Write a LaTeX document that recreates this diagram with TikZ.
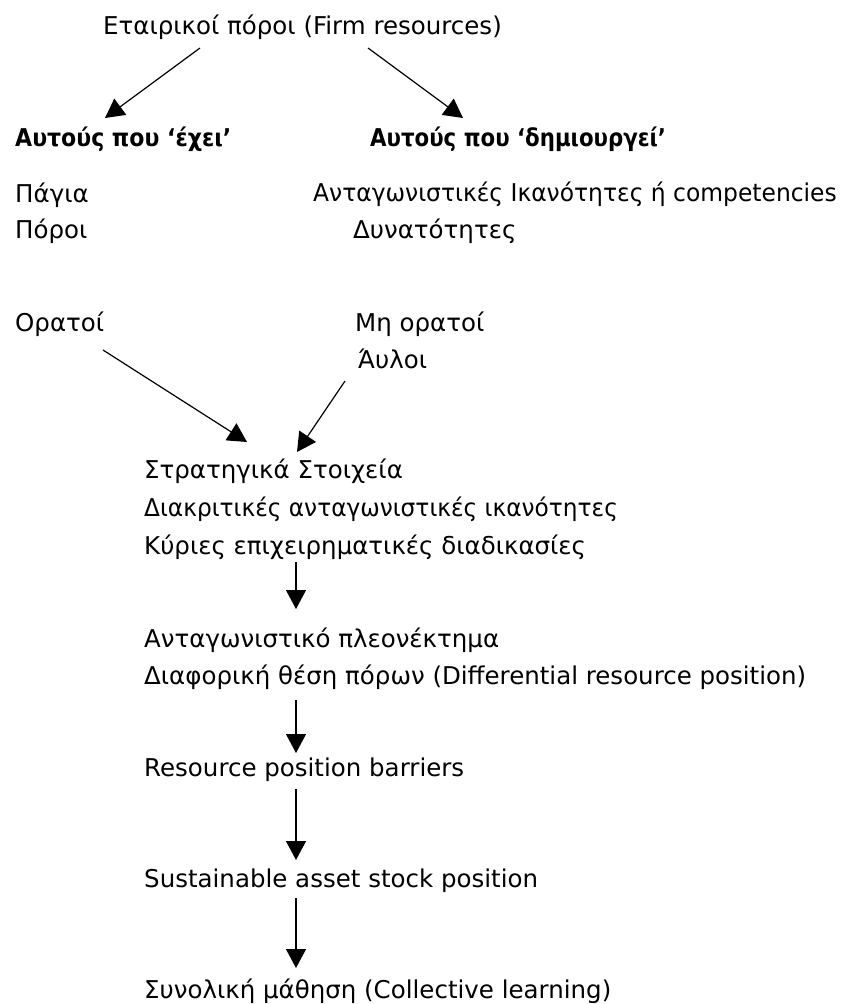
\documentclass[tikz,border=0pt]{standalone}
\usepackage{fontspec}
\setmainfont{DejaVu Sans}
\usetikzlibrary{arrows.meta,calc}
\begin{document}
\begin{tikzpicture}[x=1pt,y=-1pt,
  txt/.style={anchor=base west,inner sep=0pt,font=\fontsize{24.5}{29}\selectfont},
  bld/.style={txt,font=\fontsize{24.5}{29}\selectfont\bfseries},
  arr/.style={line width=1.2pt,-{Triangle[length=19pt,width=20pt]}}]
\fill[white] (0,0) rectangle (845,1004);
\useasboundingbox (0,0) rectangle (845,1004);
\node[txt] (title) at (103,34) {Εταιρικοί πόροι (Firm resources)};
\node[bld] (has) at (15,146) {\scalebox{0.9}[1]{Αυτούς που ‘έχει’}};
\node[bld] (creates) at (370,146) {\scalebox{0.87}[1]{Αυτούς που ‘δημιουργεί’}};
\node[txt] (pagia) at (15,202) {Πάγια};
\node[txt] (poroi) at (15,238) {Πόροι};
\node[txt] (antik) at (313,201) {\scalebox{0.955}[1]{Ανταγωνιστικές Ικανότητες ή competencies}};
\node[txt] (dyn) at (353,238) {Δυνατότητες};
\node[txt] (orat) at (15,331) {Ορατοί};
\node[txt] (mhor) at (355,331) {Μη ορατοί};
\node[txt] (aylo) at (358,368) {Άυλοι};
\node[txt] (strat) at (144,478) {Στρατηγικά Στοιχεία};
\node[txt] (diak) at (144,516) {\scalebox{0.95}[1]{Διακριτικές ανταγωνιστικές ικανότητες}};
\node[txt] (kyr) at (144,554) {Κύριες επιχειρηματικές διαδικασίες};
\node[txt] (antpl) at (144,647) {Ανταγωνιστικό πλεονέκτημα};
\node[txt] (diaf) at (144,684) {Διαφορική θέση πόρων (Differential resource position)};
\node[txt] (res) at (144,776) {Resource position barriers};
\node[txt] (sust) at (144,887) {Sustainable asset stock position};
\node[txt] (syn) at (144,998) {Συνολική μάθηση (Collective learning)};
\draw[arr] ($(title.base west)+(97,14)$) -- ($(has.base west)+(90,-28)$);
\draw[arr] ($(title.base west)+(265,14)$) -- ($(creates.base west)+(93,-28)$);
\draw[arr] ($(orat.base west)+(88,19)$) -- ($(strat.base west)+(103,-36)$);
\draw[arr] ($(aylo.base west)+(-13,13)$) -- ($(strat.base west)+(153,-26)$);
\draw[arr] ($(kyr.base west)+(152,8)$) -- ($(antpl.base west)+(152,-38)$);
\draw[arr] ($(diaf.base west)+(152,16)$) -- ($(res.base west)+(152,-23)$);
\draw[arr] ($(res.base west)+(152,13)$) -- ($(sust.base west)+(152,-27)$);
\draw[arr] ($(sust.base west)+(152,11)$) -- ($(syn.base west)+(152,-30)$);
\end{tikzpicture}
\end{document}
